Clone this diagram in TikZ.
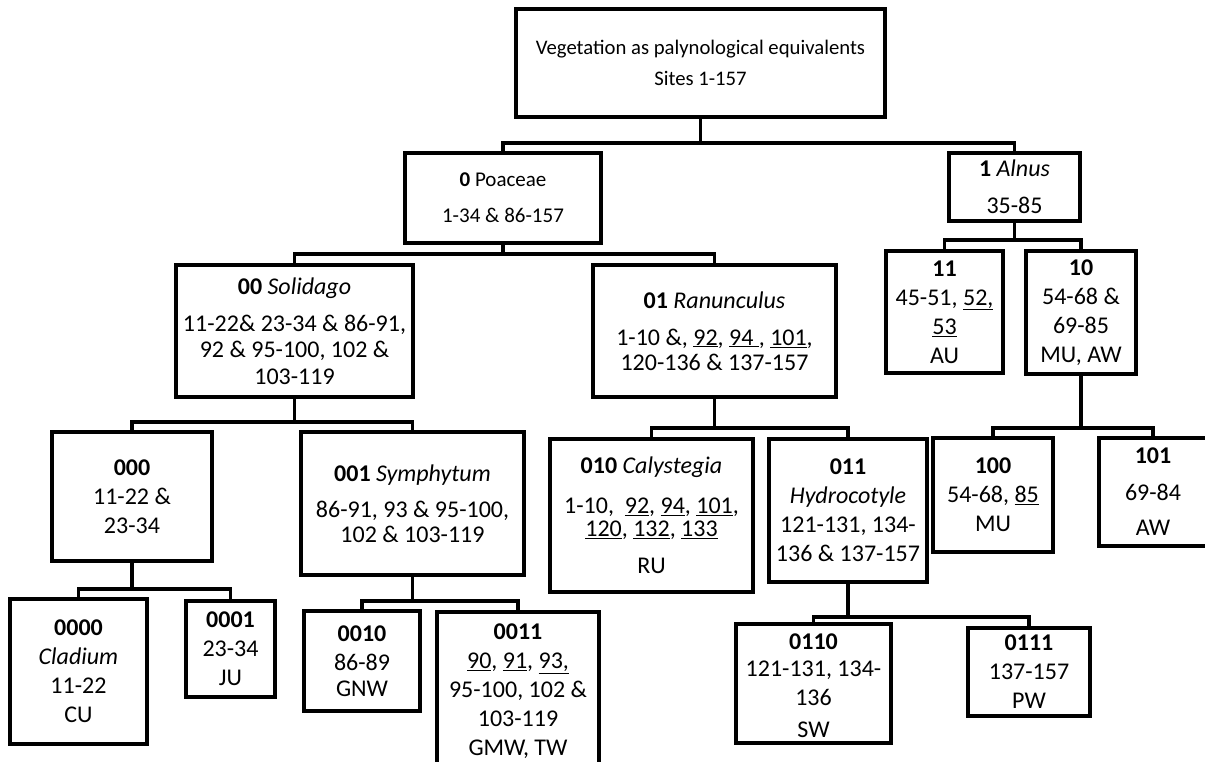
\documentclass[tikz,border=0pt]{standalone}
\usepackage{fontspec}
\setmainfont{Carlito}
\begin{document}
\begin{tikzpicture}[x=1pt,y=-1pt,
  box/.style={draw, line width=3.4pt, inner sep=0pt, align=center, font=\fontsize{24}{29}\selectfont},
  conn/.style={line width=3.4pt}]
\useasboundingbox (0,0) rectangle (1205,762);
\clip (0,0) rectangle (1205,762);
% level 0
\node[box, minimum width=369pt, minimum height=108pt, font=\fontsize{20.7}{31}\selectfont] (root) at (700.5,63)
  {Vegetation as palynological equivalents\\Sites 1-157};
% level 1
\node[box, minimum width=196pt, minimum height=90pt, font=\fontsize{21}{36}\selectfont] (p0) at (503,198)
  {\textbf{0} Poaceae\\1-34 \& 86-157};
\node[box, minimum width=131pt, minimum height=68pt, font=\fontsize{24}{37}\selectfont] (p1) at (1014.5,187)
  {\textbf{1} \textit{Alnus}\\35-85};
% level 2
\node[box, minimum width=237pt, minimum height=132pt] (n00) at (294.5,331)
  {\textbf{00} \textit{Solidago}\\[8pt]11-22\& 23-34 \& 86-91,\\[-3pt]92 \& 95-100, 102 \&\\[-2pt]103-119};
\node[box, minimum width=243pt, minimum height=132pt] (n01) at (714.5,331)
  {\textbf{01} \textit{Ranunculus}\\[8pt]1-10 \&, \underline{92}, \underline{94 }, \underline{101},\\[-4pt]120-136 \& 137-157};
\node[box, minimum width=117pt, minimum height=122pt] (n11) at (944.5,312)
  {\textbf{11}\\45-51, \underline{52,}\\\underline{53}\\AU};
\node[box, minimum width=110pt, minimum height=123pt] (n10) at (1081,312.5)
  {\textbf{10}\\54-68 \&\\69-85\\MU, AW};
% level 3
\node[box, minimum width=160pt, minimum height=129pt] (n000) at (132,496.5)
  {\textbf{000}\\11-22 \&\\23-34};
\node[box, minimum width=223pt, minimum height=143pt] (n001) at (412.5,503.5)
  {\textbf{001} \textit{Symphytum}\\[7pt]86-91, 93 \& 95-100,\\[-4pt]102 \& 103-119};
\node[box, minimum width=203pt, minimum height=153pt] (n010) at (651.5,515.5)
  {\textbf{010} \textit{Calystegia}\\[11pt]1-10,~ \underline{92}, \underline{94}, \underline{101},\\[-6pt]\underline{120}, \underline{132}, \underline{133}\\[8pt]RU};
\node[box, minimum width=158pt, minimum height=143pt] (n011) at (848,510.5)
  {\textbf{011}\\\textit{Hydrocotyle}\\121-131, 134-\\136 \& 137-157};
\node[box, minimum width=120pt, minimum height=114pt] (n100) at (993,495)
  {\textbf{100}\\54-68, \underline{85}\\MU};
\node[box, minimum width=108pt, minimum height=108pt] (n101) at (1153,492)
  {\textbf{101}\\[8pt]69-84\\[6pt]AW};
% level 4
\node[box, minimum width=137pt, minimum height=145pt] (n0000) at (78.5,671.5)
  {\textbf{0000}\\\textit{Cladium}\\11-22\\CU};
\node[box, minimum width=89pt, minimum height=96pt] (n0001) at (230.5,649)
  {\textbf{0001}\\23-34\\JU};
\node[box, minimum width=116pt, minimum height=100pt] (n0010) at (362,661)
  {\textbf{0010}\\86-89\\[-3pt]GNW};
\node[box, minimum width=162pt, minimum height=158pt] (n0011) at (518,691)
  {\textbf{0011}\\\underline{90}, \underline{91}, \underline{93,}\\95-100, 102 \&\\103-119\\GMW, TW};
\node[box, minimum width=155pt, minimum height=119pt] (n0110) at (813.5,683.5)
  {\rule{0pt}{20pt}\textbf{0110}\\[-2pt]121-131, 134-\\136\\[3pt]SW};
\node[box, minimum width=122pt, minimum height=88pt] (n0111) at (1029,672)
  {\textbf{0111}\\137-157\\PW};
% bar levels
\coordinate (yr) at (0,143);
\coordinate (yp0) at (0,254);
\coordinate (yp1) at (0,240);
\coordinate (y00) at (0,422);
\coordinate (y01) at (0,428);
\coordinate (y10) at (0,428);
\coordinate (y000) at (0,589);
\coordinate (y001) at (0,601);
\coordinate (y011) at (0,617);
% connectors
\draw[conn] (root.south) -- (root.south |- yr);
\draw[conn] (p0.north) -- (p0.north |- yr) -- (p1.north |- yr) -- (p1.north);
\draw[conn] (p0.south) -- (p0.south |- yp0);
\draw[conn] (n00.north) -- (n00.north |- yp0) -- (n01.north |- yp0) -- (n01.north);
\draw[conn] (p1.south) -- (p1.south |- yp1);
\draw[conn] (n11.north) -- (n11.north |- yp1) -- (n10.north |- yp1) -- (n10.north);
\draw[conn] (n00.south) -- (n00.south |- y00);
\draw[conn] (n000.north) -- (n000.north |- y00) -- (n001.north |- y00) -- (n001.north);
\draw[conn] (n01.south) -- (n01.south |- y01);
\draw[conn] (n010.north) -- (n010.north |- y01) -- (n011.north |- y01) -- (n011.north);
\draw[conn] (n10.south) -- (n10.south |- y10);
\draw[conn] (n100.north) -- (n100.north |- y10) -- (n101.north |- y10) -- (n101.north);
\draw[conn] (n000.south) -- (n000.south |- y000);
\draw[conn] (n0000.north) -- (n0000.north |- y000) -- (n0001.north |- y000) -- (n0001.north);
\draw[conn] (n001.south) -- (n001.south |- y001);
\draw[conn] (n0010.north) -- (n0010.north |- y001) -- (n0011.north |- y001) -- (n0011.north);
\draw[conn] (n011.south) -- (n011.south |- y011);
\draw[conn] (n0110.north) -- (n0110.north |- y011) -- (n0111.north |- y011) -- (n0111.north);
\end{tikzpicture}
\end{document}
